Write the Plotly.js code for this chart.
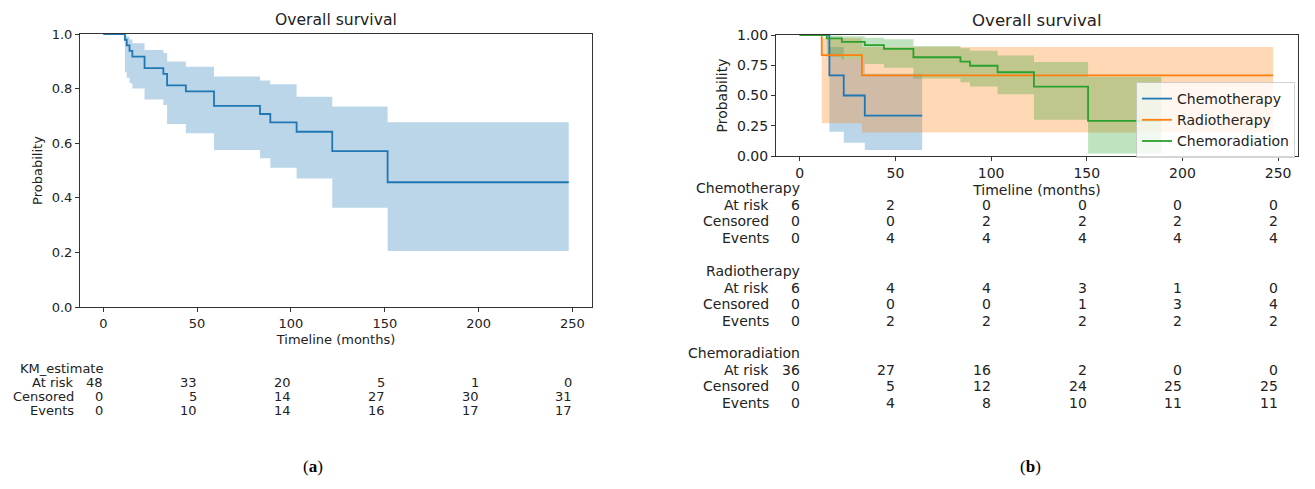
<!DOCTYPE html>
<html>
<head>
<meta charset="utf-8">
<script src="https://cdn.plot.ly/plotly-3.0.1.min.js"></script>
<style>
html,body{margin:0;padding:0;background:#fff;}
#chart{width:1315px;height:489px;}
</style>
</head>
<body>
<div id="chart"></div>
<script>
// ---------- Data: (a) overall KM estimate ----------
const kmTime  = [0, 11.5, 12.5, 14, 15.5, 22, 32, 34, 44, 59, 83.5, 89, 103, 122, 151.5, 248];
const kmSurv  = [1, 0.979, 0.958, 0.938, 0.917, 0.875, 0.854, 0.812, 0.790, 0.737, 0.707, 0.676, 0.642, 0.571, 0.457, 0.457];
const kmLower = [1, 0.86, 0.84, 0.82, 0.80, 0.76, 0.74, 0.67, 0.636, 0.575, 0.545, 0.51, 0.471, 0.364, 0.205, 0.205];
const kmUpper = [1, 0.997, 0.99, 0.98, 0.966, 0.941, 0.93, 0.899, 0.880, 0.844, 0.83, 0.816, 0.77, 0.734, 0.677, 0.677];

// ---------- Data: (b) by treatment ----------
const chemoTime  = [0, 15.5, 23, 34, 64];
const chemoSurv  = [1, 0.667, 0.5, 0.333, 0.333];
const chemoLower = [1, 0.20, 0.11, 0.05, 0.05];
const chemoUpper = [1, 0.90, 0.80, 0.68, 0.68];

const radioTime  = [0, 11.5, 32.5, 247.4];
const radioSurv  = [1, 0.833, 0.667, 0.667];
const radioLower = [1, 0.27, 0.195, 0.195];
const radioUpper = [1, 0.975, 0.90, 0.90];

const crTime  = [0, 14.1, 22, 34, 44, 59.4, 84, 89, 103.4, 122.4, 150.7, 189];
const crSurv  = [1, 0.972, 0.944, 0.916, 0.886, 0.816, 0.780, 0.746, 0.692, 0.573, 0.290, 0.290];
const crLower = [1, 0.82, 0.80, 0.76, 0.73, 0.64, 0.61, 0.575, 0.51, 0.30, 0.02, 0.02];
const crUpper = [1, 0.996, 0.99, 0.978, 0.965, 0.91, 0.89, 0.87, 0.83, 0.776, 0.655, 0.655];

// ---------- At-risk tables ----------
const tableTicks = [0, 50, 100, 150, 200, 250];
const kmAtRisk = [48, 33, 20, 5, 1, 0];
const kmCensored = [0, 5, 14, 27, 30, 31];
const kmEvents = [0, 10, 14, 16, 17, 17];

const chemoAtRisk = [6, 2, 0, 0, 0, 0];
const chemoCensored = [0, 0, 2, 2, 2, 2];
const chemoEvents = [0, 4, 4, 4, 4, 4];

const radioAtRisk = [6, 4, 4, 3, 1, 0];
const radioCensored = [0, 0, 0, 1, 3, 4];
const radioEvents = [0, 2, 2, 2, 2, 2];

const crAtRisk = [36, 27, 16, 2, 0, 0];
const crCensored = [0, 5, 12, 24, 25, 25];
const crEvents = [0, 4, 8, 10, 11, 11];

const groupNames = ['Chemotherapy', 'Radiotherapy', 'Chemoradiation'];
const rowNames = ['At risk', 'Censored', 'Events'];

// ---------- Styling ----------
const W = 1315, H = 489;
const FONT = 'DejaVu Sans, sans-serif';
const TXT = '#222';
const FS_L = 13, FS_R = 14;
const C = {blue: '#1f77b4', orange: '#ff7f0e', green: '#2ca02c'};
const FILL = {blue: 'rgba(31,119,180,0.3)', orange: 'rgba(255,127,14,0.3)', green: 'rgba(44,160,44,0.3)'};
const py = p => 1 - p / H;

function band(x, lo, hi, fill, xa, ya) {
  return [
    {x: x, y: lo, xaxis: xa, yaxis: ya, mode: 'lines', line: {shape: 'hv', width: 0, color: fill},
     showlegend: false, hoverinfo: 'skip'},
    {x: x, y: hi, xaxis: xa, yaxis: ya, mode: 'lines', line: {shape: 'hv', width: 0, color: fill},
     fill: 'tonexty', fillcolor: fill, showlegend: false, hoverinfo: 'skip'}
  ];
}
function curve(x, y, color, name, xa, ya, legend) {
  return {x: x, y: y, xaxis: xa, yaxis: ya, mode: 'lines', name: name,
          line: {shape: 'hv', width: 1.8, color: color}, showlegend: legend};
}

const traces = [
  ...band(kmTime, kmLower, kmUpper, FILL.blue, 'x', 'y'),
  curve(kmTime, kmSurv, C.blue, 'KM_estimate', 'x', 'y', false),
  ...band(chemoTime, chemoLower, chemoUpper, FILL.blue, 'x2', 'y2'),
  ...band(radioTime, radioLower, radioUpper, FILL.orange, 'x2', 'y2'),
  ...band(crTime, crLower, crUpper, FILL.green, 'x2', 'y2'),
  curve(chemoTime, chemoSurv, C.blue, 'Chemotherapy', 'x2', 'y2', true),
  curve(radioTime, radioSurv, C.orange, 'Radiotherapy', 'x2', 'y2', true),
  curve(crTime, crSurv, C.green, 'Chemoradiation', 'x2', 'y2', true)
];

function axBase(fs) {
  return {
    showline: true, mirror: true, linecolor: '#333', linewidth: 1,
    showgrid: false, zeroline: false, ticks: 'outside', ticklen: 4, tickwidth: 1,
    tickcolor: '#333', tickfont: {family: FONT, size: fs, color: TXT}
  };
}

const annotations = [];
function txt(x, xref, yPx, text, fs, opts) {
  annotations.push(Object.assign({
    x: x, xref: xref, y: py(yPx), yref: 'paper', text: text, showarrow: false,
    xanchor: 'right', yanchor: 'middle', font: {family: FONT, size: fs, color: TXT}
  }, opts || {}));
}
// titles
txt(0.5 * (80 + 592) / W, 'paper', 20, 'Overall survival', 15.6, {xanchor: 'center'});
txt(0.5 * (776 + 1298) / W, 'paper', 20, 'Overall survival', 16.6, {xanchor: 'center'});
// panel labels
txt(313 / W, 'paper', 466, '(<b>a</b>)', 17, {xanchor: 'center', font: {family: 'Liberation Serif, serif', size: 17, color: '#000'}});
txt(1030 / W, 'paper', 466, '(<b>b</b>)', 17, {xanchor: 'center', font: {family: 'Liberation Serif, serif', size: 17, color: '#000'}});

function table(xref, headerY, name, rows, dy, fs, gap) {
  txt(0, xref, headerY, name, fs, {xshift: 2});
  rows.forEach((vals, r) => {
    const yy = headerY + dy * (r + 1);
    txt(0, xref, yy, rowNames[r], fs, {xshift: -gap});
    vals.forEach((v, i) => txt(tableTicks[i], xref, yy, String(v), fs, {xshift: 2}));
  });
}
table('x', 368, 'KM_estimate', [kmAtRisk, kmCensored, kmEvents], 14, FS_L, 27);
table('x2', 188, groupNames[0], [chemoAtRisk, chemoCensored, chemoEvents], 16.7, FS_R, 29);
table('x2', 271, groupNames[1], [radioAtRisk, radioCensored, radioEvents], 16.7, FS_R, 29);
table('x2', 353, groupNames[2], [crAtRisk, crCensored, crEvents], 16.7, FS_R, 29);

const layout = {
  width: W, height: H,
  margin: {l: 0, r: 0, t: 0, b: 0},
  paper_bgcolor: '#fff', plot_bgcolor: '#fff',
  showlegend: true,
  xaxis: Object.assign(axBase(FS_L), {
    domain: [80 / W, 592 / W], range: [-12.4, 260.4], tickvals: tableTicks, anchor: 'y',
    title: {text: 'Timeline (months)', font: {family: FONT, size: FS_L, color: TXT}, standoff: 5}
  }),
  yaxis: Object.assign(axBase(FS_L), {
    domain: [py(307), py(34)], range: [0, 1], dtick: 0.2, tickformat: '.1f', anchor: 'x',
    title: {text: 'Probability', font: {family: FONT, size: FS_L, color: TXT}, standoff: 6}
  }),
  xaxis2: Object.assign(axBase(FS_R), {
    domain: [776 / W, 1298 / W], range: [-12.4, 260.4], tickvals: tableTicks, anchor: 'y2',
    title: {text: 'Timeline (months)', font: {family: FONT, size: FS_R, color: TXT}, standoff: 5}
  }),
  yaxis2: Object.assign(axBase(FS_R), {
    domain: [py(156), py(35)], range: [0, 1], dtick: 0.25, tickformat: '.2f', anchor: 'x2',
    title: {text: 'Probability', font: {family: FONT, size: FS_R, color: TXT}, standoff: 6}
  }),
  legend: {
    x: 1295 / W, xanchor: 'right', y: py(82), yanchor: 'top', traceorder: 'normal',
    bgcolor: 'rgba(255,255,255,0.8)', bordercolor: 'rgba(200,200,200,0.8)', borderwidth: 1,
    font: {family: FONT, size: FS_R, color: TXT}, tracegroupgap: 0
  },
  annotations: annotations
};

Plotly.newPlot('chart', traces, layout, {displayModeBar: false, staticPlot: true});
</script>
</body>
</html>
